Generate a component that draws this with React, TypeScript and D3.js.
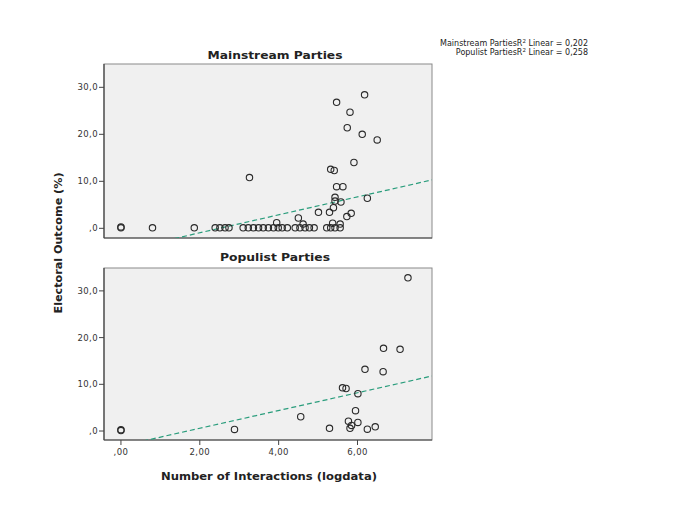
import React from "react";
import * as d3 from "d3";

// ---- Data ----
const mainstreamX = [
  0, 0, 0.8, 1.86, 2.39, 2.51, 2.64, 2.74, 3.1, 3.23, 3.36, 3.49, 3.61, 3.74, 3.87, 3.99, 4.09, 4.22,
  4.42, 4.54, 4.67, 4.78, 4.9, 5.22, 5.32, 5.43, 5.56,
  3.26, 3.95, 4.5, 4.62, 5.01, 5.29, 5.39, 5.43, 5.43, 5.58, 5.47, 5.63, 5.32, 5.41, 5.91,
  5.47, 6.18, 5.81, 5.74, 6.12, 6.5, 6.25, 5.84, 5.73, 5.37, 5.56,
];
const mainstreamY = [
  0.1, 0.3, 0.1, 0.1, 0.1, 0.1, 0.1, 0.1, 0.1, 0.1, 0.1, 0.1, 0.1, 0.1, 0.1, 0.1, 0.1, 0.1,
  0.1, 0.1, 0.1, 0.1, 0.1, 0.1, 0.1, 0.1, 0.1,
  10.8, 1.2, 2.2, 0.9, 3.4, 3.4, 4.4, 6.6, 5.8, 5.6, 8.85, 8.85, 12.55, 12.3, 14.0,
  26.8, 28.4, 24.7, 21.4, 20.0, 18.8, 6.4, 3.2, 2.5, 1.1, 0.9,
];
const populistX = [
  0, 0, 2.88, 4.56, 5.29, 5.62, 5.71, 5.77, 5.81, 5.85, 5.95, 6.01, 6.01, 6.19, 6.25, 6.45, 6.65, 6.66, 7.08, 7.28,
];
const populistY = [
  0.1, 0.3, 0.35, 3.06, 0.57, 9.25, 9.1, 2.1, 0.57, 1.2, 4.35, 8.0, 1.85, 13.2, 0.4, 0.9, 12.7, 17.7, 17.5, 32.8,
];
// linear fit: [intercept, slope]
const mainstreamFit = [-4.77, 1.91];
const populistFit = [-3.21, 1.9];
const panelTitles = ["Mainstream Parties", "Populist Parties"];
const legendLines = ["Mainstream PartiesR", "Populist PartiesR"];
const legendValues = ["0,202", "0,258"];
const yTicks = [0, 10, 20, 30];
const yTickLabels = [",0", "10,0", "20,0", "30,0"];
const xTicks = [0, 2, 4, 6];
const xTickLabels = [",00", "2,00", "4,00", "6,00"];

const W = 692;
const H = 510;
const left = 104;
const right = 432;
const xDomain: [number, number] = [-0.43, 7.89];

const fontBold = "'DejaVu Sans', sans-serif";
const fontSmall = "'DejaVu Sans', sans-serif";

type PanelProps = {
  xs: number[];
  ys: number[];
  fit: number[];
  top: number;
  bottom: number;
  yDomain: [number, number];
  title: string;
  titleY: number;
  titleLen: number;
  showX: boolean;
  id: string;
};

function Panel({ xs, ys, fit, top, bottom, yDomain, title, titleY, titleLen, showX, id }: PanelProps) {
  const x = d3.scaleLinear().domain(xDomain).range([left, right]);
  const y = d3.scaleLinear().domain(yDomain).range([bottom, top]);
  const line = d3
    .line<number>()
    .x((d) => x(d))
    .y((d) => y(fit[0] + fit[1] * d));
  const pts = xs.map((v, i) => [v, ys[i]]);
  return (
    <g>
      <defs>
        <clipPath id={id}>
          <rect x={left} y={top} width={right - left} height={bottom - top} />
        </clipPath>
      </defs>
      <rect x={left} y={top} width={right - left} height={bottom - top} fill="#f0f0f0" stroke="#8a8a8a" strokeWidth={1} />
      <line x1={left} x2={left} y1={top} y2={bottom} stroke="#444" strokeWidth={1.2} />
      <line x1={left} x2={right} y1={bottom} y2={bottom} stroke="#444" strokeWidth={1.2} />
      <text
        x={275}
        y={titleY}
        textAnchor="middle"
        fontFamily={fontBold}
        fontWeight="bold"
        fontSize={11}
        textLength={titleLen}
        lengthAdjust="spacingAndGlyphs"
        fill="#222"
      >
        {title}
      </text>
      {yTicks.map((t, i) => (
        <g key={t}>
          <line x1={left - 5} x2={left} y1={y(t)} y2={y(t)} stroke="#444" />
          <text
            x={left - 6}
            y={y(t) + 3}
            textAnchor="end"
            fontFamily={fontSmall}
            fontSize={8.5}
            letterSpacing={0.4}
            fill="#333"
          >
            {yTickLabels[i]}
          </text>
        </g>
      ))}
      {showX &&
        xTicks.map((t, i) => (
          <g key={t}>
            <line x1={x(t)} x2={x(t)} y1={bottom} y2={bottom + 5} stroke="#444" />
            <text
              x={x(t)}
              y={bottom + 15}
              textAnchor="middle"
              fontFamily={fontSmall}
              fontSize={8.5}
              letterSpacing={0.4}
              fill="#333"
            >
              {xTickLabels[i]}
            </text>
          </g>
        ))}
      <g clipPath={`url(#${id})`}>
        <path
          d={line([xDomain[0], xDomain[1]]) || ""}
          fill="none"
          stroke="#2a9d7c"
          strokeWidth={1.2}
          strokeDasharray="5,3"
        />
      </g>
      {pts.map((p, i) => (
        <circle key={i} cx={x(p[0])} cy={y(p[1])} r={3.2} fill="none" stroke="#2a2a2a" strokeWidth={1.1} />
      ))}
    </g>
  );
}

export default function App() {
  return (
    <svg width={W} height={H} style={{ position: "absolute", left: 0, top: 0, background: "#fff" }}>
      <rect x={0} y={0} width={W} height={H} fill="#fff" />
      <Panel
        xs={mainstreamX}
        ys={mainstreamY}
        fit={mainstreamFit}
        top={64}
        bottom={238}
        yDomain={[-2.06, 34.96]}
        title={panelTitles[0]}
        titleY={59}
        titleLen={135}
        showX={false}
        id="clipTop"
      />
      <Panel
        xs={populistX}
        ys={populistY}
        fit={populistFit}
        top={268}
        bottom={440}
        yDomain={[-1.92, 34.9]}
        title={panelTitles[1]}
        titleY={261}
        titleLen={110}
        showX={true}
        id="clipBottom"
      />
      <text
        x={269}
        y={480}
        textAnchor="middle"
        fontFamily={fontBold}
        fontWeight="bold"
        fontSize={11}
        textLength={216}
        lengthAdjust="spacingAndGlyphs"
        fill="#222"
      >
        Number of Interactions (logdata)
      </text>
      <text
        transform="translate(62,243) rotate(-90)"
        textAnchor="middle"
        fontFamily={fontBold}
        fontWeight="bold"
        fontSize={11}
        textLength={141}
        lengthAdjust="spacingAndGlyphs"
        fill="#222"
      >
        Electoral Outcome (%)
      </text>
      {legendLines.map((l, i) => (
        <text
          key={l}
          x={588}
          y={46 + i * 9}
          textAnchor="end"
          fontFamily="'DejaVu Sans', sans-serif"
          fontSize={8}
          fill="#222"
        >
          {l}
          <tspan fontSize={5.5} dy={-3}>2</tspan>
          <tspan dy={3}>{` Linear = ${legendValues[i]}`}</tspan>
        </text>
      ))}
    </svg>
  );
}
